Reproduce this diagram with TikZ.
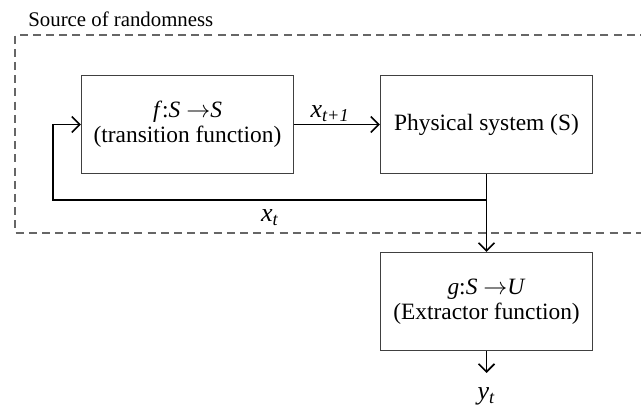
\documentclass[tikz,border=0pt]{standalone}
\usepackage{fontspec}
\setmainfont{Liberation Serif}
\usetikzlibrary{arrows.meta}

\begin{document}
\begin{tikzpicture}[x=0.5pt,y=-0.5pt,line join=miter,
  block/.style={draw=black!75,line width=0.55pt,minimum width=106pt,minimum height=49pt,inner sep=0pt,align=center,font=\fontsize{11.7}{12.5}\selectfont},
  conn/.style={line width=0.9pt},
  tip/.style={-{Straight Barb[length=4pt,width=8pt,line width=0.8pt]}},
  lbl/.style={font=\fontsize{13}{14}\selectfont,inner sep=1pt}]
\path[use as bounding box] (0,0) rectangle (641,410);
% source of randomness region, open to the right
\draw[black!60,line width=0.6pt,dash pattern=on 4pt off 2.6pt] (648,35) -- (15,35) -- (15,233) -- (648,233);
\node[anchor=base west,inner sep=0pt,font=\fontsize{10.4}{12}\selectfont] (src) at (28,27) {Source of randomness};
% blocks
\node[block] (trans) at (187.5,124.5) {\textit{f}:\textit{S} $\rightarrow$\textit{S}\\(transition function)};
\node[block] (phys) at (486.5,124.5) {Physical system (S)};
\node[block] (extr) at (486.5,301.5) {\textit{g}:\textit{S} $\rightarrow$\textit{U}\\(Extractor function)};
\coordinate (fb) at (53,200);
\coordinate (out) at (486.5,373);
% connectors
\draw[conn,tip] (trans.east) -- node[lbl,above,pos=0.42] {\textit{x}\textsubscript{\textit{t+1}}} (phys.west);
\draw[conn,tip] (phys.south) |- (fb) |- (trans.west);
\node[lbl,anchor=base] (xt) at (270,222) {\textit{x}\textsubscript{\textit{t}}};
\draw[conn,tip] (phys.south) -- (extr.north);
\draw[conn,tip] (extr.south) -- (out);
\node[lbl,anchor=base] (yt) at (486.5,400) {\textit{y}\textsubscript{\textit{t}}};
\end{tikzpicture}
\end{document}
